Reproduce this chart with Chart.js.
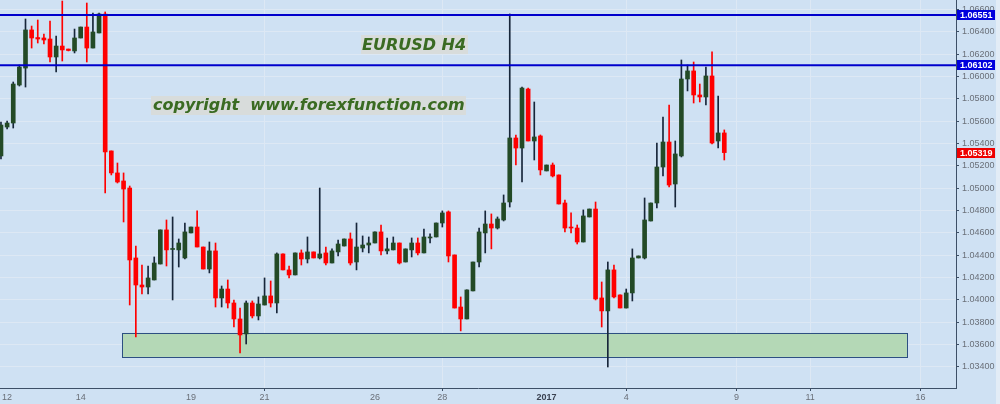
<!DOCTYPE html>
<html>
<head>
<meta charset="utf-8">
<script src="https://cdn.jsdelivr.net/npm/chart.js@4/dist/chart.umd.min.js"></script>
<style>
  html, body { margin: 0; padding: 0; background: #cfe1f3; }
  canvas { display: block; }
</style>
</head>
<body>
<canvas id="myChart" width="1000" height="404"></canvas>
<script>
// EURUSD H4 candles (one entry per 4h bar)
var openP = [1.05289,1.05548,1.05584,1.05924,1.06076,1.06417,1.06349,1.06345,1.06336,1.06175,
  1.06273,1.06246,1.06229,1.06345,1.06443,1.06255,1.06390,1.06560,1.05334,1.05137,
  1.05065,1.05002,1.04376,1.04134,1.04116,1.04179,1.04322,1.04627,1.04452,1.04448,
  1.04376,1.04600,1.04653,1.04474,1.04277,1.04439,1.04018,1.04098,1.03973,1.03830,
  1.03696,1.03973,1.03857,1.03955,1.04036,1.03973,1.04412,1.04269,1.04224,1.04421,
  1.04367,1.04430,1.04376,1.04421,1.04331,1.04430,1.04483,1.04546,1.04340,1.04465,
  1.04492,1.04510,1.04609,1.04439,1.04448,1.04510,1.04340,1.04448,1.04510,1.04421,
  1.04555,1.04564,1.04689,1.04788,1.04403,1.03937,1.03830,1.04081,1.04340,1.04600,
  1.04680,1.04644,1.04716,1.04877,1.05450,1.05360,1.05888,1.05423,1.05468,1.05155,
  1.05208,1.05119,1.04868,1.04653,1.04644,1.04519,1.04743,1.04814,1.04018,1.03902,
  1.04269,1.04045,1.03928,1.04063,1.04376,1.04376,1.04707,1.04868,1.05190,1.05414,
  1.05038,1.05289,1.05978,1.06050,1.05835,1.05817,1.06005,1.05423,1.05495];
var highP = [1.05593,1.05602,1.05951,1.06103,1.06515,1.06452,1.06506,1.06381,1.06497,1.06363,
  1.06676,1.06246,1.06425,1.06443,1.06658,1.06569,1.06569,1.06578,1.05334,1.05226,
  1.05137,1.05020,1.04483,1.04313,1.04304,1.04385,1.04627,1.04716,1.04743,1.04546,
  1.04689,1.04653,1.04797,1.04474,1.04519,1.04510,1.04125,1.04179,1.04000,1.03928,
  1.03991,1.03991,1.04027,1.04197,1.04170,1.04421,1.04412,1.04304,1.04421,1.04448,
  1.04564,1.04430,1.05002,1.04474,1.04457,1.04537,1.04546,1.04600,1.04689,1.04573,
  1.04564,1.04609,1.04671,1.04555,1.04564,1.04510,1.04457,1.04555,1.04555,1.04635,
  1.04591,1.04689,1.04797,1.04797,1.04403,1.04027,1.04090,1.04340,1.04644,1.04797,
  1.04770,1.04743,1.04940,1.06560,1.05477,1.05906,1.05897,1.05772,1.05477,1.05208,
  1.05226,1.05119,1.04895,1.04779,1.04671,1.04806,1.04814,1.04877,1.04161,1.04340,
  1.04313,1.04045,1.04098,1.04457,1.04394,1.04913,1.04868,1.05405,1.05638,1.05745,
  1.05423,1.06148,1.06103,1.06130,1.05933,1.06085,1.06220,1.05826,1.05522];
var lowP = [1.05262,1.05530,1.05539,1.05915,1.05906,1.06255,1.06300,1.06291,1.06130,1.06041,
  1.06139,1.06229,1.06211,1.06345,1.06130,1.06255,1.06390,1.04958,1.05119,1.05047,
  1.04698,1.03955,1.03669,1.04054,1.04054,1.04179,1.04322,1.04304,1.04000,1.04295,
  1.04367,1.04600,1.04474,1.04277,1.04242,1.03937,1.03937,1.03928,1.03758,1.03526,
  1.03606,1.03839,1.03821,1.03955,1.03937,1.03884,1.04269,1.04197,1.04224,1.04313,
  1.04331,1.04376,1.04367,1.04313,1.04331,1.04394,1.04483,1.04313,1.04269,1.04430,
  1.04421,1.04510,1.04403,1.04412,1.04448,1.04322,1.04340,1.04385,1.04403,1.04421,
  1.04510,1.04564,1.04653,1.04340,1.03928,1.03723,1.03830,1.04081,1.04295,1.04421,
  1.04457,1.04635,1.04707,1.04832,1.05208,1.05056,1.05423,1.05253,1.05119,1.05155,
  1.05101,1.04859,1.04609,1.04600,1.04501,1.04519,1.04743,1.04000,1.03758,1.03400,
  1.04018,1.03928,1.03928,1.03991,1.04376,1.04367,1.04707,1.04823,1.05110,1.05011,
  1.04832,1.05280,1.05871,1.05763,1.05772,1.05745,1.05396,1.05360,1.05253];
var closeP = [1.05566,1.05584,1.05933,1.06085,1.06417,1.06345,1.06336,1.06327,1.06175,1.06273,
  1.06238,1.06233,1.06345,1.06443,1.06255,1.06399,1.06560,1.05325,1.05137,1.05056,
  1.04993,1.04358,1.04134,1.04116,1.04197,1.04331,1.04627,1.04448,1.04457,1.04510,
  1.04609,1.04653,1.04474,1.04277,1.04439,1.04018,1.04098,1.03973,1.03830,1.03687,
  1.03973,1.03857,1.03964,1.04036,1.03973,1.04412,1.04269,1.04224,1.04421,1.04367,
  1.04430,1.04376,1.04412,1.04331,1.04439,1.04501,1.04546,1.04331,1.04474,1.04492,
  1.04510,1.04609,1.04439,1.04457,1.04510,1.04331,1.04457,1.04510,1.04421,1.04564,
  1.04564,1.04689,1.04779,1.04394,1.03928,1.03830,1.04090,1.04340,1.04609,1.04680,
  1.04644,1.04725,1.04868,1.05450,1.05360,1.05897,1.05423,1.05459,1.05164,1.05208,
  1.05110,1.04859,1.04644,1.04644,1.04519,1.04752,1.04814,1.04009,1.03902,1.04269,
  1.04027,1.03928,1.04063,1.04376,1.04394,1.04716,1.04868,1.05190,1.05414,1.05029,
  1.05307,1.05978,1.06050,1.05835,1.05817,1.06005,1.05405,1.05495,1.05319];

// date labels along the bottom (bar index where the label sits)
var xTickIdx = [1, 13, 31, 43, 61, 72, 89, 102, 120, 132, 150];
var xTickLabels = ["12", "14", "19", "21", "26", "28", "2017", "4", "9", "11", "16"];
var xGridIdx = [43, 72, 102, 120, 132, 150];

var yTickVals = [1.034, 1.036, 1.038, 1.040, 1.042, 1.044, 1.046, 1.048, 1.050,
  1.052, 1.054, 1.056, 1.058, 1.060, 1.062, 1.064, 1.066];

// horizontal levels and the demand zone
var levels = [1.06551, 1.06102];
var zoneX = [19.74, 147.8];
var zoneY = [1.03490, 1.03705];

var bullBody = "#234a26";
var bullWick = "#17263a";
var bearColor = "#ff0000";

function isBull(i) {
  return closeP[i] >= openP[i];
}

var overlay = {
  id: "overlay",
  beforeDraw: function(chart) {
    var c = chart.ctx;
    c.save();
    c.fillStyle = "#cfe1f3";
    c.fillRect(0, 0, 996, chart.height);
    c.fillStyle = "#e2ecf6";
    c.fillRect(996, 0, chart.width - 996, chart.height);
    c.restore();
  },
  beforeDatasetsDraw: function(chart) {
    var c = chart.ctx;
    var x = chart.scales.x, y = chart.scales.y;
    var x1 = x.getPixelForValue(zoneX[0]), x2 = x.getPixelForValue(zoneX[1]);
    var y1 = y.getPixelForValue(zoneY[1]), y2 = y.getPixelForValue(zoneY[0]);
    c.save();
    c.fillStyle = "#b4d8b6";
    c.fillRect(x1, y1, x2 - x1, y2 - y1);
    c.strokeStyle = "#2d4f82";
    c.lineWidth = 1;
    c.strokeRect(Math.round(x1) + 0.5, Math.round(y1) + 0.5, Math.round(x2 - x1), Math.round(y2 - y1));
    c.restore();
  },
  afterDatasetsDraw: function(chart) {
    var c = chart.ctx;
    var area = chart.chartArea, y = chart.scales.y;
    c.save();
    c.strokeStyle = "#0000cc";
    c.lineWidth = 2;
    levels.forEach(function(v) {
      var py = y.getPixelForValue(v);
      c.beginPath();
      c.moveTo(area.left, py);
      c.lineTo(area.right, py);
      c.stroke();
    });

    // watermark texts
    c.font = "italic bold 16px 'DejaVu Sans'";
    c.textBaseline = "alphabetic";
    c.fillStyle = "#d8dcdb";
    c.fillRect(361, 35, 107, 19);
    c.fillRect(151, 96, 315, 19);
    c.fillStyle = "#3a6b22";
    c.fillText("EURUSD H4", 362, 50);
    c.fillText("copyright  www.forexfunction.com", 153, 110);
    c.restore();
  },
  afterDraw: function(chart) {
    var c = chart.ctx;
    var y = chart.scales.y;
    var tags = levels.map(function(v) { return { v: v, col: "#0000dd" }; });
    tags.push({ v: closeP[closeP.length - 1], col: "#ee0000" });
    c.save();
    c.font = "bold 9px 'Liberation Sans'";
    c.textBaseline = "middle";
    tags.forEach(function(t) {
      var py = Math.round(y.getPixelForValue(t.v));
      c.fillStyle = t.col;
      c.fillRect(957, py - 5, 38, 10);
      c.fillStyle = "#ffffff";
      c.fillText(t.v.toFixed(5), 960, py + 0.5);
    });
    c.restore();
  }
};

function init() {
  var bodies = openP.map(function(o, i) { return { x: i, y: [o, closeP[i]] }; });
  var wicks = lowP.map(function(l, i) { return { x: i, y: [l, highP[i]] }; });

  var ctx = document.getElementById("myChart").getContext("2d");
  var chart = new Chart(ctx, {
    type: "bar",
    data: {
      datasets: [{
        label: "body",
        data: bodies,
        order: 0,
        grouped: false,
        barThickness: 4,
        minBarLength: 1,
        borderWidth: 0,
        backgroundColor: function(c) { return isBull(c.dataIndex) ? bullBody : bearColor; }
      }, {
        label: "wick",
        data: wicks,
        order: 1,
        grouped: false,
        barThickness: 1,
        borderWidth: 0,
        backgroundColor: function(c) { return isBull(c.dataIndex) ? bullWick : bearColor; }
      }]
    },
    options: {
      responsive: false,
      animation: false,
      devicePixelRatio: 1,
      layout: { padding: 0 },
      plugins: { legend: { display: false }, tooltip: { enabled: false } },
      scales: {
        x: {
          type: "linear",
          offset: false,
          min: -0.16,
          max: 155.8,
          afterBuildTicks: function(s) {
            s.ticks = xTickIdx.map(function(v) { return { value: v }; });
          },
          afterFit: function(s) {
            s.height = 16;
            s.paddingLeft = 0;
            s.paddingRight = 0;
          },
          ticks: {
            autoSkip: false,
            maxRotation: 0,
            padding: 1,
            color: function(c) { return c.tick && c.tick.value === 89 ? "#3a4150" : "#6a6f78"; },
            font: function(c) {
              var bold = c.tick && c.tick.value === 89;
              return { family: "'Liberation Sans'", size: 9, weight: bold ? "bold" : "normal" };
            },
            callback: function(v) { return xTickLabels[xTickIdx.indexOf(v)]; }
          },
          grid: {
            offset: false,
            tickLength: 3,
            color: function(c) { return xGridIdx.indexOf(c.tick && c.tick.value) >= 0 ? "#dde8f4" : "rgba(0,0,0,0)"; },
            tickColor: function(c) { return xGridIdx.indexOf(c.tick && c.tick.value) >= 0 ? "#3d4f66" : "rgba(0,0,0,0)"; }
          },
          border: { color: "#3d4f66", width: 1 }
        },
        y: {
          type: "linear",
          position: "right",
          min: 1.03212,
          max: 1.06685,
          afterBuildTicks: function(s) {
            s.ticks = yTickVals.map(function(v) { return { value: v }; });
          },
          afterFit: function(s) {
            s.width = 44;
            s.paddingTop = 0;
            s.paddingBottom = 0;
          },
          ticks: {
            padding: 3,
            color: "#6a6f78",
            font: { family: "'Liberation Sans'", size: 9 },
            callback: function(v) { return Number(v).toFixed(5); }
          },
          grid: { color: "#dde8f4", tickLength: 3, tickColor: "#3d4f66" },
          border: { color: "#3d4f66", width: 1 }
        }
      }
    },
    plugins: [overlay]
  });
}

init();
</script>
</body>
</html>
